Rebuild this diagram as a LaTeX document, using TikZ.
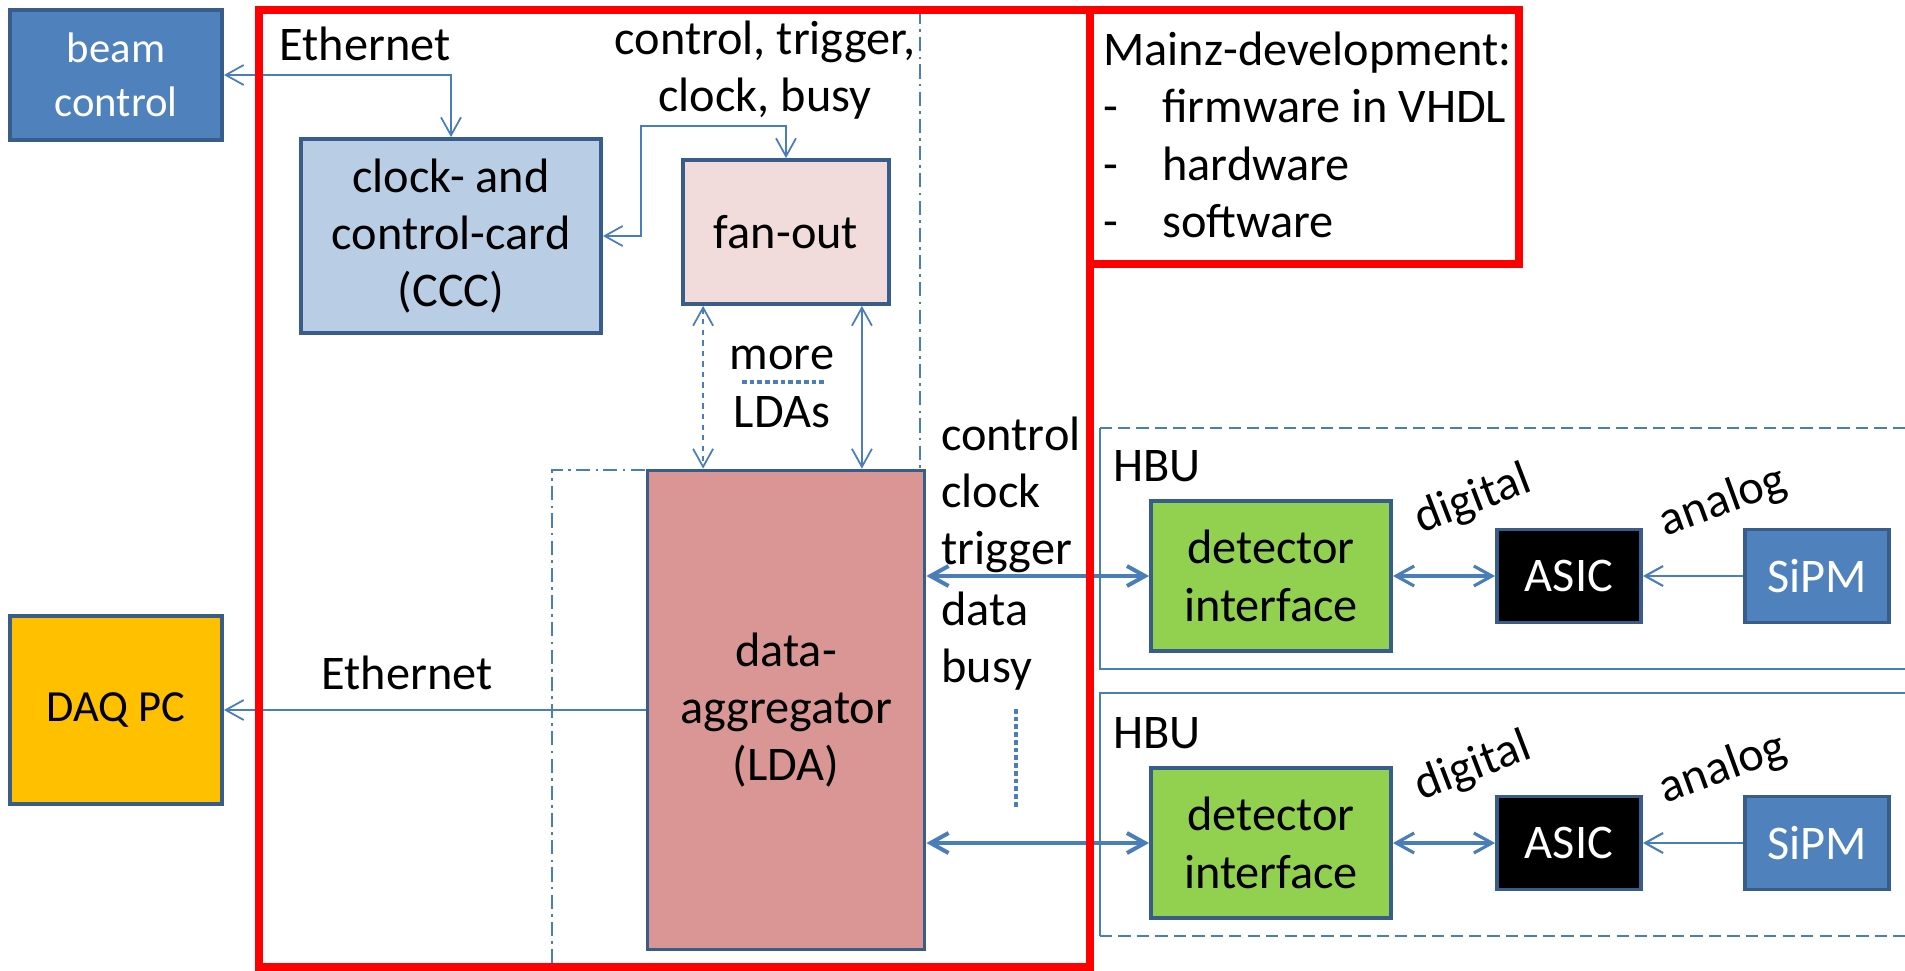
\documentclass[tikz,border=0pt]{standalone}
\usepackage{fontspec}
\setmainfont{Carlito}
\usetikzlibrary{arrows.meta,calc}
\definecolor{boxline}{HTML}{385D8A}
\definecolor{linkblue}{HTML}{4A7EBB}
\definecolor{beamblue}{HTML}{4F81BD}
\definecolor{cccblue}{HTML}{B9CDE5}
\definecolor{fanpink}{HTML}{F2DCDB}
\definecolor{ldarose}{HTML}{D99694}
\definecolor{daqgold}{HTML}{FFC000}
\definecolor{detgreen}{HTML}{92D050}
\newcommand\rowgap{267}

\begin{document}
\begin{tikzpicture}[x=0.02cm, y=-0.02cm,
		every node/.style={font=\fontsize{27.5}{32.6}\selectfont},
		card/.style={draw=boxline, line width=2.2pt, align=center, inner sep=0pt},
		link/.style={linkblue, line width=1pt},
		bus/.style={linkblue, line width=2.3pt},
		dotrow/.style={linkblue, line width=2.4pt, dash pattern=on 2.7pt off 1.7pt},
		hbuframe/.style={linkblue, line width=1pt},
		ldaframe/.style={linkblue, line width=1.3pt, dash pattern=on 8pt off 3pt on 1.5pt off 3pt},
		redframe/.style={red, line width=4.5pt},
		>={Straight Barb[length=3.6mm, width=4mm]}]
		\useasboundingbox (0,0) rectangle (1905,970);

		% LDA region
		\draw[ldaframe] (920,10) -- (920,470) -- (552,470) -- (552,970);

		% HBU frames
		\draw[hbuframe, dash pattern=on 7pt off 3.5pt] (1905,428) -- (1100,428);
		\draw[hbuframe] (1100,428) -- (1100,669) -- (1905,669);
		\draw[hbuframe] (1905,693) -- (1100,693) -- (1100,936);
		\draw[hbuframe, dash pattern=on 7pt off 3.5pt] (1100,936) -- (1905,936);

		\node[card, fill=beamblue, text=white, font=\fontsize{24.3}{31}\selectfont, minimum width=4.24cm, minimum height=2.6cm] (beam) at (116,75) {beam\\control};
		\node[card, fill=daqgold, font=\fontsize{25.3}{31}\selectfont, minimum width=4.24cm, minimum height=3.76cm] (daq) at (116,710) {DAQ PC};
		\node[card, fill=cccblue, minimum width=6cm, minimum height=3.88cm] (ccc) at (451,236) {clock- and\\control-card\\(CCC)};
		\node[card, fill=fanpink, minimum width=4.12cm, minimum height=2.88cm] (fanout) at (786,232) {fan-out};
		\node[card, fill=ldarose, minimum width=5.54cm, minimum height=9.58cm] (lda) at (786,710) {data-\\aggregator\\(LDA)};

		\node (ethtop) at (365,44) {Ethernet};
		\node[align=center] (ctlabel) at (765,70) {control, trigger,\\clock, busy};
		\node (ethbot) at (407,673) {Ethernet};
		\node (more) at (782,358) {more};
		\node (ldas) at (782,412) {LDAs};
		\draw[dotrow] (742,382) -- (827,382);

		\node[anchor=west, align=left, inner sep=0pt] (toplines) at (941,495) {control\\clock\\trigger};
		\node[anchor=west, align=left, inner sep=0pt] (botlines) at (941,641) {data\\busy};
		\draw[dotrow] (1016,709) -- (1016,809);

		% HBU rows
		\node[anchor=west, inner sep=0pt] (hbu1) at (1113,466) {HBU};
		\node[card, fill=detgreen, minimum width=4.8cm, minimum height=3cm] (det1) at (1271,576) {detector\\interface};
		\node[card, fill=black, text=white, minimum width=2.88cm, minimum height=1.86cm] (asic1) at (1569,576) {ASIC};
		\node[card, fill=beamblue, text=white, minimum width=2.88cm, minimum height=1.86cm] (sipm1) at (1817,576) {SiPM};
		\node[rotate=21, inner sep=0pt] (dig1) at (1473,500) {digital};
		\node[rotate=20, inner sep=0pt] (ana1) at (1723,502) {analog};

		\node[anchor=west, inner sep=0pt] (hbu2) at (1113,466+\rowgap) {HBU};
		\node[card, fill=detgreen, minimum width=4.8cm, minimum height=3cm] (det2) at (1271,576+\rowgap) {detector\\interface};
		\node[card, fill=black, text=white, minimum width=2.88cm, minimum height=1.86cm] (asic2) at (1569,576+\rowgap) {ASIC};
		\node[card, fill=beamblue, text=white, minimum width=2.88cm, minimum height=1.86cm] (sipm2) at (1817,576+\rowgap) {SiPM};
		\node[rotate=21, inner sep=0pt] (dig2) at (1473,500+\rowgap) {digital};
		\node[rotate=20, inner sep=0pt] (ana2) at (1723,502+\rowgap) {analog};

		% connections
		\coordinate (bend) at (641,126);
		\draw[link, <->] (beam.east) -| (ccc.north);  % ethernet
		\draw[link, <->] (ccc.east) -| (bend) -| (fanout.north);
		\draw[link, <->, dashed] ($(fanout.south west)+(22,0)$) coordinate (mlft) -- (mlft |- lda.north);
		\draw[link, <->] ($(fanout.south east)+(-29,0)$) coordinate (mrgt) -- (mrgt |- lda.north);
		\draw[link, ->] (lda.west) -- (daq.east);  % ethernet
		\draw[bus, <->] (lda.east |- det1.west) -- (det1.west);
		\draw[bus, <->] (lda.east |- det2.west) -- (det2.west);
		\draw[link, line width=1.8pt, <->] (det1) -- (asic1);
		\draw[link, line width=1.8pt, <->] (det2) -- (asic2);
		\draw[link, line width=1.2pt, ->] (sipm1) -- (asic1);
		\draw[link, line width=1.2pt, ->] (sipm2) -- (asic2);

		% Mainz parts
		\draw[redframe] (259,10) rectangle (1090,967);
		\draw[redframe] (1090,10) rectangle (1519,264);
		\node[anchor=west, align=left, inner sep=0pt] (mainz) at (1103,135) {Mainz-development:\\\makebox[1.18cm][l]{-}firmware in VHDL\\\makebox[1.18cm][l]{-}hardware\\\makebox[1.18cm][l]{-}software};
	\end{tikzpicture}
\end{document}
